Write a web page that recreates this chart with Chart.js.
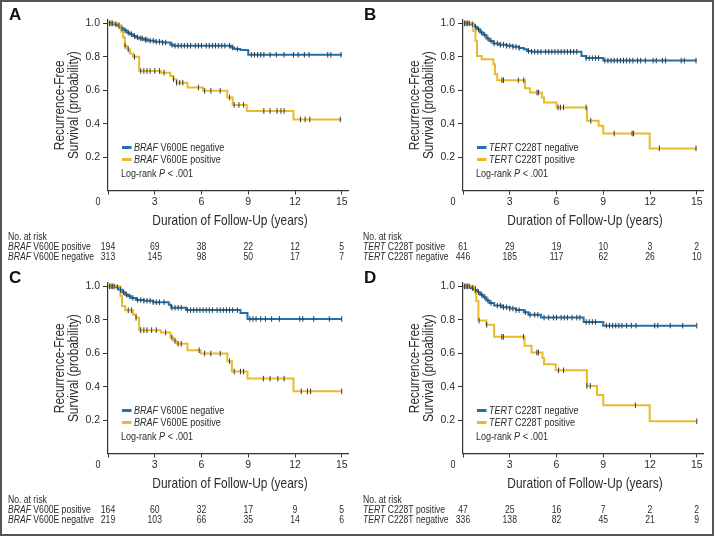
<!DOCTYPE html>
<html>
<head>
<meta charset="utf-8">
<script src="https://cdn.jsdelivr.net/npm/chart.js@4"></script>
<style>
  body { margin: 0; background: #fff; }
  #fig { position: relative; width: 714px; height: 536px; }
  #fig canvas { position: absolute; }
  #frame { position: absolute; left: 0; top: 0; width: 714px; height: 536px; box-sizing: border-box; border: 2px solid #555; pointer-events: none; }
</style>
</head>
<body>
<div id="fig">
  <canvas id="pA" width="357" height="268" style="left:0;top:0"></canvas>
  <canvas id="pB" width="357" height="268" style="left:355px;top:0"></canvas>
  <canvas id="pC" width="357" height="268" style="left:0;top:263px"></canvas>
  <canvas id="pD" width="357" height="268" style="left:355px;top:263px"></canvas>
  <div id="frame"></div>
</div>
<script>
// at-risk table columns (years)
const riskTimes = [0, 3, 6, 9, 12, 15];

// panel A: BRAF V600E, [time, survival] after each event
const aNegSteps = [[0.4,0.995],[0.6,0.985],[0.8,0.97],[1.0,0.958],[1.2,0.945],[1.4,0.935],[1.6,0.924],[1.8,0.916],[2.0,0.91],[2.3,0.902],[2.6,0.896],[3.0,0.89],[3.5,0.885],[4.0,0.872],[4.2,0.866],[7.9,0.856],[8.1,0.846],[8.5,0.84],[9.0,0.812]];
const aNegCens = [0.1,0.2,0.3,0.5,0.7,0.9,1.1,1.3,1.5,1.7,1.9,2.1,2.2,2.4,2.5,2.7,2.9,3.1,3.3,3.5,3.7,4.1,4.3,4.5,4.7,4.9,5.1,5.3,5.6,5.8,6.0,6.3,6.5,6.7,6.9,7.1,7.3,7.5,7.8,8.0,8.3,9.2,9.4,9.6,9.8,10.0,10.4,10.8,11.3,11.9,12.2,12.6,12.9,14.1,14.3,14.95];
const aPosSteps = [[0.7,0.985],[0.85,0.95],[0.97,0.915],[1.08,0.865],[1.25,0.845],[1.4,0.82],[1.6,0.80],[2.0,0.715],[3.4,0.705],[4.0,0.685],[4.2,0.665],[4.4,0.645],[5.1,0.616],[6.1,0.596],[7.65,0.556],[8.0,0.512],[8.9,0.476],[11.9,0.425]];
const aPosCens = [1.1,1.3,1.7,2.1,2.3,2.5,2.7,3.0,3.3,3.6,4.2,4.4,4.6,4.8,5.8,6.2,6.6,7.2,7.8,8.1,8.4,8.7,10.0,10.4,10.85,11.1,11.3,12.35,12.65,12.95,14.9];
const aRiskPos = [194, 69, 38, 22, 12, 5];
const aRiskNeg = [313, 145, 98, 50, 17, 7];

// panel B: TERT C228T
const bNegSteps = [[0.5,0.994],[0.7,0.98],[0.9,0.964],[1.1,0.945],[1.3,0.93],[1.5,0.91],[1.7,0.895],[1.95,0.88],[2.3,0.872],[2.8,0.866],[3.2,0.86],[3.6,0.853],[3.9,0.845],[4.1,0.835],[4.4,0.83],[7.6,0.805],[7.9,0.792],[9.0,0.777]];
const bNegCens = [0.1,0.2,0.3,0.4,0.6,0.8,1.0,1.2,1.4,1.6,1.8,2.0,2.2,2.4,2.6,2.8,3.0,3.2,3.4,3.6,4.2,4.4,4.6,4.8,5.0,5.3,5.5,5.7,5.9,6.1,6.3,6.5,6.7,6.9,7.1,7.3,7.9,8.1,8.3,8.5,8.7,9.1,9.3,9.5,9.7,9.9,10.1,10.3,10.5,10.7,10.9,11.2,11.4,11.7,12.2,12.4,12.8,13.0,14.0,14.2,14.95];
const bPosSteps = [[0.66,0.954],[0.8,0.894],[0.9,0.805],[1.2,0.785],[1.95,0.755],[2.05,0.695],[2.2,0.66],[3.98,0.612],[4.3,0.586],[5.06,0.556],[5.2,0.527],[6.0,0.497],[7.95,0.417],[8.7,0.387],[9.0,0.341],[11.98,0.252]];
const bPosCens = [2.5,2.6,3.55,3.9,4.75,4.85,6.1,6.25,6.45,7.9,8.2,9.7,10.85,10.95,12.6,14.95];
const bRiskPos = [61, 29, 19, 10, 3, 2];
const bRiskNeg = [446, 185, 117, 62, 26, 10];

// panel C: BRAF V600E (second cohort)
const cNegSteps = [[0.5,0.995],[0.7,0.98],[0.9,0.965],[1.1,0.95],[1.3,0.94],[1.5,0.93],[1.8,0.918],[2.3,0.914],[2.9,0.905],[3.9,0.89],[4.05,0.872],[5.0,0.858],[8.5,0.84],[8.95,0.805]];
const cNegCens = [0.1,0.2,0.3,0.4,0.6,0.8,1.0,1.2,1.4,1.6,1.9,2.1,2.3,2.5,2.7,2.9,3.1,3.3,3.6,4.1,4.3,4.5,4.7,5.1,5.3,5.5,5.7,5.9,6.1,6.3,6.5,6.7,7.0,7.2,7.4,7.6,7.8,8.0,8.3,9.1,9.3,9.5,9.8,10.1,10.5,11.0,12.3,12.5,13.2,14.2,15.0];
const cPosSteps = [[0.8,0.942],[0.9,0.882],[1.1,0.857],[1.6,0.832],[1.8,0.812],[2.0,0.738],[3.4,0.724],[4.0,0.694],[4.2,0.674],[4.4,0.656],[5.1,0.618],[5.95,0.598],[7.66,0.552],[7.95,0.49],[8.95,0.448],[11.9,0.372]];
const cPosCens = [1.3,1.5,1.8,2.1,2.3,2.5,2.8,3.1,3.7,4.1,4.3,4.5,4.7,5.85,6.2,6.6,7.2,7.8,8.1,8.5,8.7,9.97,10.4,10.9,11.3,12.4,12.8,13.0,15.0];
const cRiskPos = [164, 60, 32, 17, 9, 5];
const cRiskNeg = [219, 103, 66, 35, 14, 6];

// panel D: TERT C228T (second cohort)
const dNegSteps = [[0.5,0.99],[0.7,0.98],[0.9,0.965],[1.1,0.95],[1.3,0.935],[1.5,0.915],[1.7,0.9],[2.0,0.885],[2.5,0.875],[3.0,0.867],[3.4,0.858],[3.9,0.845],[4.2,0.83],[5.0,0.813],[7.74,0.787],[9.0,0.765]];
const dNegCens = [0.1,0.2,0.3,0.4,0.6,0.8,1.0,1.2,1.4,1.6,1.8,2.2,2.4,2.6,2.8,3.0,3.2,3.4,3.6,4.0,4.3,4.6,4.8,5.2,5.5,5.8,6.0,6.3,6.5,6.7,7.0,7.3,7.5,7.9,8.1,8.3,8.5,9.2,9.4,9.6,9.8,10.0,10.2,10.5,10.8,11.1,12.3,12.5,13.3,14.1,15.0];
const dPosSteps = [[0.77,0.962],[0.85,0.912],[0.99,0.795],[1.5,0.77],[2.0,0.698],[3.95,0.644],[4.4,0.604],[5.1,0.572],[5.2,0.534],[5.95,0.498],[7.95,0.404],[8.6,0.35],[9.0,0.288],[11.98,0.193]];
const dPosCens = [1.03,1.52,2.49,2.59,3.88,4.74,4.84,6.13,6.45,7.95,8.17,11.06,15.0];
const dRiskPos = [47, 25, 16, 7, 2, 2];
const dRiskNeg = [336, 138, 82, 45, 21, 9];

const BLUE = '#1f71b0';
const YELLOW = '#e7bb2c';
const TXT = '#2b2b2b';
const FONT = '"Liberation Sans", Arial, sans-serif';
const SX = 0.82; // squeeze to mimic the condensed face of the original

Chart.defaults.font.family = FONT;
Chart.defaults.color = TXT;

function curve(steps) {
  const pts = [{ x: 0, y: 1 }];
  steps.forEach(s => pts.push({ x: s[0], y: s[1] }));
  pts.push({ x: 15, y: steps[steps.length - 1][1] });
  return pts;
}

function survAt(steps, t) {
  let v = 1;
  steps.forEach(s => { if (s[0] <= t) v = s[1]; });
  return v;
}

function censors(steps, times) {
  return times.map(t => ({ x: t, y: survAt(steps, t) }));
}

// condensed text; parts like [['BRAF', true], [' V600E negative', false]]
function richText(ctx, parts, x, y, size, align) {
  let w = 0;
  parts.forEach(p => {
    ctx.font = (p[1] ? 'italic ' : '') + size + 'px ' + FONT;
    w += ctx.measureText(p[0]).width * SX;
  });
  if (align === 'center') x -= w / 2;
  ctx.textAlign = 'left';
  ctx.textBaseline = 'middle';
  parts.forEach(p => {
    ctx.font = (p[1] ? 'italic ' : '') + size + 'px ' + FONT;
    ctx.save();
    ctx.translate(x, y);
    ctx.scale(SX, 1);
    ctx.fillText(p[0], 0, 0);
    ctx.restore();
    x += ctx.measureText(p[0]).width * SX;
  });
}

const createPanel = function createPanel(id, opts) {
  const decor = {
    id: 'decor',
    afterDraw: chart => {
      const ctx = chart.ctx;
      const ca = chart.chartArea;
      const xs = chart.scales.x;
      const midY = (ca.top + ca.bottom) / 2;
      ctx.save();
      ctx.fillStyle = '#111';
      ctx.font = 'bold 17px ' + FONT;
      ctx.textAlign = 'left';
      ctx.textBaseline = 'alphabetic';
      ctx.fillText(opts.letter, 9, 20);

      ctx.fillStyle = TXT;
      // shared "0" sits left of the corner
      richText(ctx, [['0', false]], xs.getPixelForValue(0) - 10, ca.bottom + 11, 11, 'center');

      // axis titles
      richText(ctx, [['Duration of Follow-Up (years)', false]], (ca.left + ca.right) / 2 + 2, ca.bottom + 30.5, 14.5, 'center');
      ctx.save();
      ctx.translate(60, midY);
      ctx.rotate(-Math.PI / 2);
      richText(ctx, [['Recurrence-Free', false]], 0, 0, 14.5, 'center');
      ctx.restore();
      ctx.save();
      ctx.translate(74, midY);
      ctx.rotate(-Math.PI / 2);
      richText(ctx, [['Survival (probability)', false]], 0, 0, 14.5, 'center');
      ctx.restore();

      // legend
      const lx = ca.left + 14;
      const ly = ca.bottom - 43;
      ctx.lineWidth = 3;
      ctx.strokeStyle = BLUE;
      ctx.beginPath(); ctx.moveTo(lx, ly); ctx.lineTo(lx + 9.5, ly); ctx.stroke();
      ctx.strokeStyle = YELLOW;
      ctx.beginPath(); ctx.moveTo(lx, ly + 12); ctx.lineTo(lx + 9.5, ly + 12); ctx.stroke();
      richText(ctx, [[opts.gene, true], [' ' + opts.variant + ' negative', false]], lx + 12, ly, 11);
      richText(ctx, [[opts.gene, true], [' ' + opts.variant + ' positive', false]], lx + 12, ly + 12, 11);
      richText(ctx, [['Log-rank ', false], ['P', true], [' < .001', false]], lx - 1, ly + 26.5, 11);

      // number at risk
      richText(ctx, [['No. at risk', false]], 8, ca.bottom + 46.5, 10.5);
      richText(ctx, [[opts.gene, true], [' ' + opts.variant + ' positive', false]], 8, ca.bottom + 56.5, 10.5);
      richText(ctx, [[opts.gene, true], [' ' + opts.variant + ' negative', false]], 8, ca.bottom + 66.5, 10.5);
      riskTimes.forEach((t, i) => {
        const px = xs.getPixelForValue(t);
        richText(ctx, [[String(opts.riskPos[i]), false]], px, ca.bottom + 56.5, 10.5, 'center');
        richText(ctx, [[String(opts.riskNeg[i]), false]], px, ca.bottom + 66.5, 10.5, 'center');
      });
      ctx.restore();
    }
  };

  const tickStyle = {
    pointStyle: 'line',
    rotation: 90,
    radius: 2.8,
    borderColor: '#3a3a3a',
    borderWidth: 1,
    showLine: false,
    type: 'scatter'
  };

  return new Chart(document.getElementById(id), {
    type: 'line',
    plugins: [decor],
    data: {
      datasets: [
        Object.assign({ data: censors(opts.pos, opts.posCens) }, tickStyle),
        Object.assign({ data: censors(opts.neg, opts.negCens) }, tickStyle),
        {
          data: curve(opts.pos),
          borderColor: YELLOW,
          borderWidth: 2,
          stepped: true,
          pointRadius: 0
        },
        {
          data: curve(opts.neg),
          borderColor: BLUE,
          borderWidth: 2,
          stepped: true,
          pointRadius: 0
        }
      ]
    },
    options: {
      responsive: false,
      animation: false,
      events: [],
      layout: { padding: { left: 0, top: 20, right: 9, bottom: 0 } },
      plugins: { legend: { display: false }, tooltip: { enabled: false } },
      scales: {
        x: {
          type: 'linear',
          min: 0,
          max: 15.4,
          afterFit: scale => { scale.height = 77.5; },
          border: { color: '#333', width: 1.2 },
          grid: { drawOnChartArea: false, tickLength: 4, color: '#333' },
          ticks: {
            stepSize: 3,
            includeBounds: false,
            padding: 1,
            maxRotation: 0,
            font: { size: 10.5 },
            callback: v => (v === 0 ? '' : v)
          }
        },
        y: {
          min: 0,
          max: 1.02,
          afterFit: scale => { scale.width = 108; },
          border: { color: '#333', width: 1.2 },
          grid: {
            drawOnChartArea: false,
            tickLength: 5,
            color: c => (c.tick && c.tick.value === 0 ? 'rgba(0,0,0,0)' : '#333')
          },
          ticks: {
            stepSize: 0.2,
            includeBounds: false,
            padding: 3,
            font: { size: 10.5 },
            callback: v => (v === 0 ? '' : v.toFixed(1))
          }
        }
      }
    }
  });
};

createPanel('pA', { letter: 'A', gene: 'BRAF', variant: 'V600E', neg: aNegSteps, negCens: aNegCens, pos: aPosSteps, posCens: aPosCens, riskPos: aRiskPos, riskNeg: aRiskNeg });
createPanel('pB', { letter: 'B', gene: 'TERT', variant: 'C228T', neg: bNegSteps, negCens: bNegCens, pos: bPosSteps, posCens: bPosCens, riskPos: bRiskPos, riskNeg: bRiskNeg });
createPanel('pC', { letter: 'C', gene: 'BRAF', variant: 'V600E', neg: cNegSteps, negCens: cNegCens, pos: cPosSteps, posCens: cPosCens, riskPos: cRiskPos, riskNeg: cRiskNeg });
createPanel('pD', { letter: 'D', gene: 'TERT', variant: 'C228T', neg: dNegSteps, negCens: dNegCens, pos: dPosSteps, posCens: dPosCens, riskPos: dRiskPos, riskNeg: dRiskNeg });
</script>
</body>
</html>
